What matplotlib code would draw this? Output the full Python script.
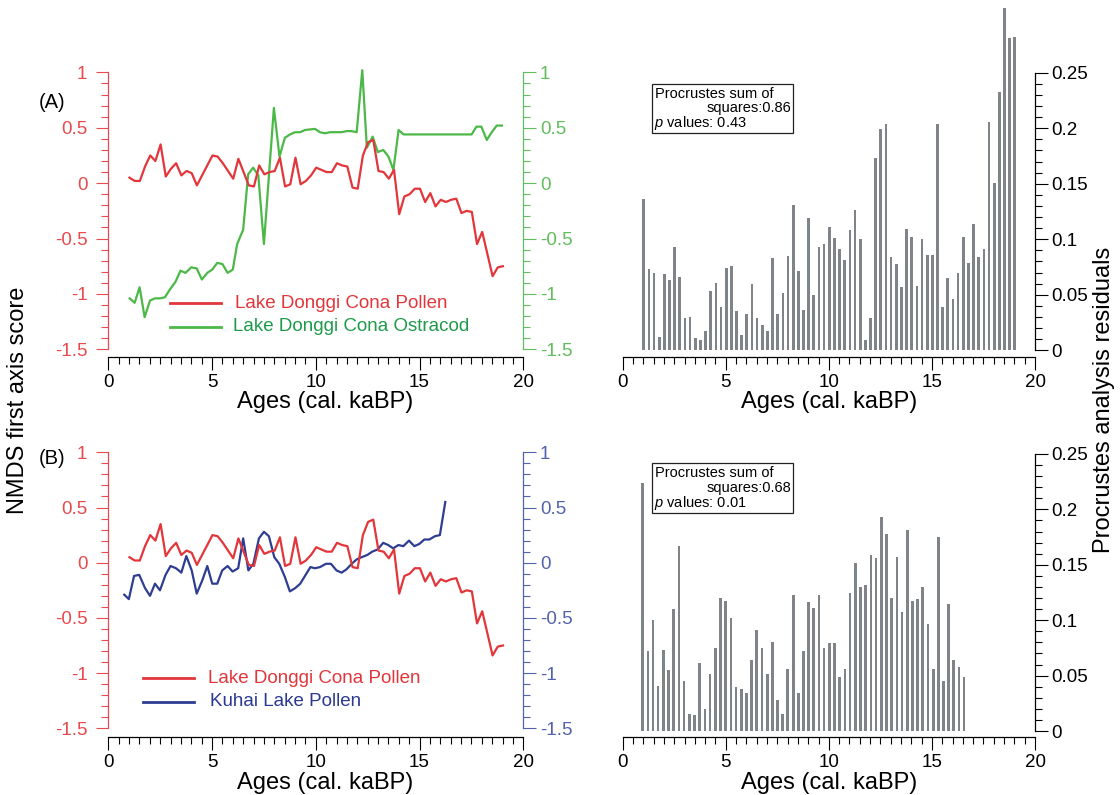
import matplotlib
matplotlib.use('Agg')
import matplotlib.pyplot as plt
from matplotlib.ticker import MultipleLocator, FuncFormatter
from matplotlib.lines import Line2D
from matplotlib.patches import Rectangle

plt.rcParams['font.family'] = ['Liberation Sans', 'DejaVu Sans']
plt.rcParams['axes.unicode_minus'] = False
plt.rcParams['mathtext.fontset'] = 'custom'
plt.rcParams['mathtext.rm'] = 'Liberation Sans'
plt.rcParams['mathtext.it'] = 'Liberation Sans:italic'

# ---------------- data ----------------
pollen_age = [1.02, 1.27, 1.52, 1.77, 2.02, 2.27, 2.52, 2.77, 3.02, 3.27, 3.52, 3.77,
              4.02, 4.27, 4.52, 4.77, 5.02, 5.27, 5.52, 5.77, 6.02, 6.27, 6.52, 6.77,
              7.02, 7.27, 7.52, 7.77, 8.02, 8.27, 8.52, 8.77, 9.02, 9.27, 9.52, 9.77,
              10.02, 10.27, 10.52, 10.77, 11.02, 11.27, 11.52, 11.77, 12.02, 12.27, 12.52, 12.77,
              13.02, 13.27, 13.52, 13.77, 14.02, 14.27, 14.52, 14.77, 15.02, 15.27, 15.52, 15.77,
              16.02, 16.27, 16.52, 16.77, 17.02, 17.27, 17.52, 17.77, 18.02, 18.27, 18.52, 18.77,
              19.02]
donggi_pollen = [0.05, 0.02, 0.02, 0.15, 0.25, 0.20, 0.35, 0.06, 0.13, 0.18, 0.07, 0.11,
                 0.09, -0.02, 0.07, 0.16, 0.25, 0.24, 0.18, 0.11, 0.04, 0.22, 0.10, -0.02,
                 -0.03, 0.16, 0.08, 0.10, 0.11, 0.23, -0.03, -0.01, 0.23, -0.01, 0.02, 0.07,
                 0.14, 0.12, 0.10, 0.10, 0.18, 0.16, 0.15, -0.04, -0.05, 0.25, 0.37, 0.39,
                 0.11, 0.10, 0.04, 0.12, -0.28, -0.12, -0.10, -0.05, -0.05, -0.17, -0.09, -0.21,
                 -0.15, -0.17, -0.15, -0.14, -0.27, -0.25, -0.26, -0.55, -0.44, -0.64, -0.84, -0.76,
                 -0.75]

ostracod_age = [1.03, 1.27, 1.51, 1.75, 2.01, 2.25, 2.49, 2.73, 2.97, 3.24, 3.48, 3.72,
                4.00, 4.26, 4.51, 4.77, 5.01, 5.25, 5.50, 5.75, 6.00, 6.21, 6.50, 6.74,
                6.98, 7.23, 7.50, 7.98, 8.25, 8.51, 8.76, 9.00, 9.24, 9.48, 9.96, 10.20,
                10.44, 10.68, 11.00, 11.24, 11.48, 11.72, 11.97, 12.24, 12.46, 12.74, 12.99, 13.25,
                13.50, 13.74, 13.99, 14.23, 17.51, 17.74, 17.98, 18.24, 18.48, 18.72, 18.97]
donggi_ostracod = [-1.04, -1.08, -0.94, -1.21, -1.06, -1.04, -1.04, -1.03, -0.96, -0.89, -0.79, -0.81,
                   -0.76, -0.77, -0.87, -0.81, -0.78, -0.72, -0.73, -0.81, -0.78, -0.55, -0.42, 0.08,
                   0.14, 0.07, -0.55, 0.68, 0.24, 0.41, 0.44, 0.46, 0.46, 0.48, 0.49, 0.46,
                   0.45, 0.46, 0.46, 0.46, 0.47, 0.47, 0.46, 1.02, 0.32, 0.42, 0.28, 0.30,
                   0.24, 0.12, 0.48, 0.44, 0.44, 0.51, 0.51, 0.39, 0.46, 0.52, 0.52]

kuhai_age = [0.77, 0.99, 1.24, 1.49, 1.77, 2.01, 2.25, 2.49, 2.76, 3.00, 3.26, 3.52,
             3.76, 4.02, 4.26, 4.53, 4.77, 5.01, 5.25, 5.49, 5.75, 5.99, 6.26, 6.50,
             6.75, 6.99, 7.26, 7.50, 7.74, 8.00, 8.24, 8.51, 8.75, 9.01, 9.25, 9.51,
             9.74, 9.96, 10.20, 10.49, 10.73, 11.00, 11.24, 11.48, 11.73, 11.97, 12.21, 12.48,
             12.72, 12.98, 13.25, 13.49, 13.73, 13.98, 14.22, 14.49, 14.75, 14.99, 15.23, 15.47,
             15.74, 15.98, 16.24]
kuhai_pollen = [-0.29, -0.33, -0.12, -0.11, -0.23, -0.30, -0.19, -0.25, -0.11, -0.03, -0.05, -0.09,
                0.06, -0.07, -0.28, -0.16, -0.03, -0.19, -0.19, -0.07, -0.03, -0.08, -0.05, 0.22,
                -0.07, -0.01, 0.22, 0.28, 0.24, 0.05, -0.01, -0.13, -0.26, -0.23, -0.19, -0.11,
                -0.04, -0.05, -0.04, -0.01, -0.01, -0.07, -0.09, -0.06, -0.01, 0.03, 0.05, 0.07,
                0.10, 0.12, 0.18, 0.16, 0.13, 0.16, 0.15, 0.20, 0.15, 0.17, 0.21, 0.21,
                0.24, 0.25, 0.55]

resid_a = [0.136, 0.073, 0.070, 0.012, 0.069, 0.063, 0.093, 0.066, 0.029, 0.030, 0.011, 0.009,
           0.017, 0.053, 0.061, 0.039, 0.074, 0.076, 0.035, 0.014, 0.033, 0.060, 0.029, 0.023,
           0.017, 0.083, 0.033, 0.052, 0.085, 0.131, 0.071, 0.036, 0.119, 0.050, 0.093, 0.096,
           0.111, 0.101, 0.091, 0.081, 0.108, 0.126, 0.100, 0.009, 0.029, 0.173, 0.199, 0.204,
           0.084, 0.078, 0.057, 0.109, 0.102, 0.058, 0.100, 0.086, 0.086, 0.204, 0.039, 0.065,
           0.046, 0.070, 0.102, 0.079, 0.114, 0.084, 0.091, 0.206, 0.151, 0.233, 0.308, 0.281,
           0.282]

resid_b_age = [0.97, 1.22, 1.47, 1.72, 1.98, 2.23, 2.48, 2.73, 2.98, 3.23, 3.49, 3.74,
               3.99, 4.24, 4.49, 4.74, 4.99, 5.25, 5.50, 5.75, 6.00, 6.25, 6.50, 6.76,
               7.01, 7.26, 7.51, 7.76, 8.01, 8.27, 8.52, 8.77, 9.02, 9.27, 9.52, 9.77,
               10.03, 10.28, 10.53, 10.78, 11.03, 11.28, 11.54, 11.79, 12.04, 12.29, 12.54, 12.79,
               13.04, 13.30, 13.55, 13.80, 14.05, 14.30, 14.55, 14.81, 15.06, 15.31, 15.56, 15.81,
               16.06, 16.31, 16.56]
resid_b = [0.224, 0.072, 0.100, 0.041, 0.073, 0.055, 0.110, 0.167, 0.045, 0.015, 0.014, 0.061,
           0.020, 0.051, 0.075, 0.120, 0.117, 0.102, 0.040, 0.038, 0.034, 0.064, 0.091, 0.075,
           0.051, 0.080, 0.028, 0.015, 0.056, 0.123, 0.034, 0.072, 0.116, 0.111, 0.123, 0.075,
           0.079, 0.079, 0.049, 0.056, 0.125, 0.152, 0.130, 0.132, 0.159, 0.156, 0.193, 0.178,
           0.120, 0.157, 0.107, 0.181, 0.117, 0.119, 0.130, 0.097, 0.056, 0.175, 0.045, 0.115,
           0.064, 0.058, 0.049]

box_a = ["Procrustes sum of", "squares:0.86", "$p$ values: 0.43"]
box_b = ["Procrustes sum of", "squares:0.68", "$p$ values: 0.01"]

# ---------------- styling ----------------
W, H = 1120, 795
RED = '#e2363b'
RED_AX = '#e84a4d'
GREEN = '#4cb848'
GREEN_AX = '#62bd5c'
GREEN_TXT = '#1e9a4a'
BLUE = '#2e3d92'
BLUE_AX = '#5362aa'
BLUE_TXT = '#2b3990'
GREY = '#7f8488'
TICK_FS = 13.5
LABEL_FS = 17

fig = plt.figure(figsize=(W / 100, H / 100), dpi=100)


def rect(x0, x1, yt, yb):
    return [x0 / W, 1 - yb / H, (x1 - x0) / W, (yb - yt) / H]


def fx(x):
    return x / W


def fy(y):
    return 1 - y / H


fmt = FuncFormatter(lambda v, p: '0' if abs(v) < 1e-9 else f'{v:g}')


def style_x(ax, offset):
    ax.set_xlim(0, 20)
    ax.spines['bottom'].set_position(('outward', offset))
    ax.spines['bottom'].set_bounds(0, 20)
    ax.spines['bottom'].set_linewidth(0.9)
    ax.xaxis.set_major_locator(MultipleLocator(5))
    ax.xaxis.set_minor_locator(MultipleLocator(0.5))
    ax.xaxis.set_major_formatter(fmt)
    ax.tick_params(axis='x', which='major', length=9, width=0.8, direction='out',
                   labelsize=TICK_FS, pad=3)
    ax.tick_params(axis='x', which='minor', length=5, width=0.8, direction='out')


def line_panel(r, offset, age2, val2, c2, c2ax):
    ax = fig.add_axes(r)
    ax.patch.set_visible(False)
    ax.set_ylim(-1.5, 1)
    ax.plot(pollen_age, donggi_pollen, color=RED, lw=1.6, clip_on=False, zorder=4)
    for s in ['top', 'right']:
        ax.spines[s].set_visible(False)
    ax.spines['left'].set_color(RED_AX)
    ax.spines['left'].set_bounds(-1.5, 1)
    ax.spines['left'].set_linewidth(0.9)
    ax.yaxis.set_major_locator(MultipleLocator(0.5))
    ax.yaxis.set_minor_locator(MultipleLocator(0.1))
    ax.yaxis.set_major_formatter(fmt)
    ax.tick_params(axis='y', which='major', length=9, width=0.8, colors=RED_AX,
                   labelcolor=RED_AX, labelsize=TICK_FS, pad=6)
    ax.tick_params(axis='y', which='minor', length=5, width=0.8, colors=RED_AX)
    style_x(ax, offset)

    ax2 = ax.twinx()
    ax2.set_ylim(-1.5, 1)
    ax2.plot(age2, val2, color=c2, lw=1.6, clip_on=False, zorder=3)
    for s in ['top', 'left', 'bottom']:
        ax2.spines[s].set_visible(False)
    ax2.spines['right'].set_color(c2ax)
    ax2.spines['right'].set_bounds(-1.5, 1)
    ax2.spines['right'].set_linewidth(0.9)
    ax2.yaxis.set_major_locator(MultipleLocator(0.5))
    ax2.yaxis.set_minor_locator(MultipleLocator(0.1))
    ax2.yaxis.set_major_formatter(fmt)
    ax2.tick_params(axis='y', which='major', length=9, width=0.8, colors=c2ax,
                    labelcolor=c2ax, labelsize=TICK_FS, pad=3)
    ax2.tick_params(axis='y', which='minor', length=5, width=0.8, colors=c2ax)
    ax.set_zorder(ax2.get_zorder() + 1)
    return ax


def bar_panel(r, offset, ages, vals):
    ax = fig.add_axes(r)
    ax.patch.set_visible(False)
    ax.bar(ages, vals, width=0.13, color=GREY, clip_on=False, zorder=3)
    ax.set_ylim(0, 0.25)
    for s in ['top', 'left']:
        ax.spines[s].set_visible(False)
    ax.spines['right'].set_bounds(0, 0.25)
    ax.spines['right'].set_linewidth(0.9)
    ax.yaxis.tick_right()
    ax.yaxis.set_major_locator(MultipleLocator(0.05))
    ax.yaxis.set_minor_locator(MultipleLocator(0.01))
    ax.yaxis.set_major_formatter(fmt)
    ax.tick_params(axis='y', which='major', length=9, width=0.8, labelsize=TICK_FS, pad=3)
    ax.tick_params(axis='y', which='minor', length=5, width=0.8)
    style_x(ax, offset)
    return ax


line_panel(rect(108.3, 523.3, 72.4, 349.3), 5.5, ostracod_age, donggi_ostracod, GREEN, GREEN_AX)
bar_panel(rect(622.7, 1035, 72.7, 350.3), 5.0, pollen_age, resid_a)
line_panel(rect(108.3, 523.3, 452.3, 728.3), 6.5, kuhai_age, kuhai_pollen, BLUE, BLUE_AX)
bar_panel(rect(622.7, 1035, 454, 731), 4.5, resid_b_age, resid_b)


def legend_entry(x0, x1, y, tx, text, lc, tc):
    fig.add_artist(Line2D([fx(x0), fx(x1)], [fy(y), fy(y)], color=lc, lw=2.0,
                          transform=fig.transFigure))
    fig.text(fx(tx), fy(y), text, color=tc, fontsize=13.5, ha='left', va='center')


legend_entry(170, 221, 303.3, 235, "Lake Donggi Cona Pollen", RED, RED)
legend_entry(170, 221, 326.7, 232.7, "Lake Donggi Cona Ostracod", GREEN, GREEN_TXT)
legend_entry(143, 194, 678.3, 208.3, "Lake Donggi Cona Pollen", RED, RED)
legend_entry(143, 194, 701.7, 210, "Kuhai Lake Pollen", BLUE, BLUE_TXT)


def text_box(ytop, ybot, lines):
    fig.add_artist(Rectangle((fx(652.3), fy(ybot)), (793.3 - 652.3) / W, (ybot - ytop) / H,
                             fill=False, lw=0.9, edgecolor='#222222',
                             transform=fig.transFigure))
    h = (ybot - ytop)
    fig.text(fx(655), fy(ytop + h * 0.2), lines[0], fontsize=10.5, ha='left', va='center')
    fig.text(fx(791.5), fy(ytop + h * 0.49), lines[1], fontsize=10.5, ha='right', va='center')
    fig.text(fx(654), fy(ytop + h * 0.79), lines[2], fontsize=10.5, ha='left', va='center')


text_box(84.3, 133.3, box_a)
text_box(463.3, 513.3, box_b)

# axis titles and panel labels
for cx in (325.0, 828.8):
    for cy in (402, 783):
        fig.text(fx(cx), fy(cy), "Ages (cal. kaBP)", fontsize=LABEL_FS, ha='center', va='center')
fig.text(fx(18), fy(400), "NMDS first axis score", fontsize=LABEL_FS, rotation=90,
         ha='center', va='center')
fig.text(fx(1104), fy(400), "Procrustes analysis residuals", fontsize=LABEL_FS, rotation=90,
         ha='center', va='center')
fig.text(fx(52), fy(102), "(A)", fontsize=14.5, ha='center', va='center')
fig.text(fx(52), fy(458), "(B)", fontsize=14.5, ha='center', va='center')

fig.savefig('out.png', dpi=100)
